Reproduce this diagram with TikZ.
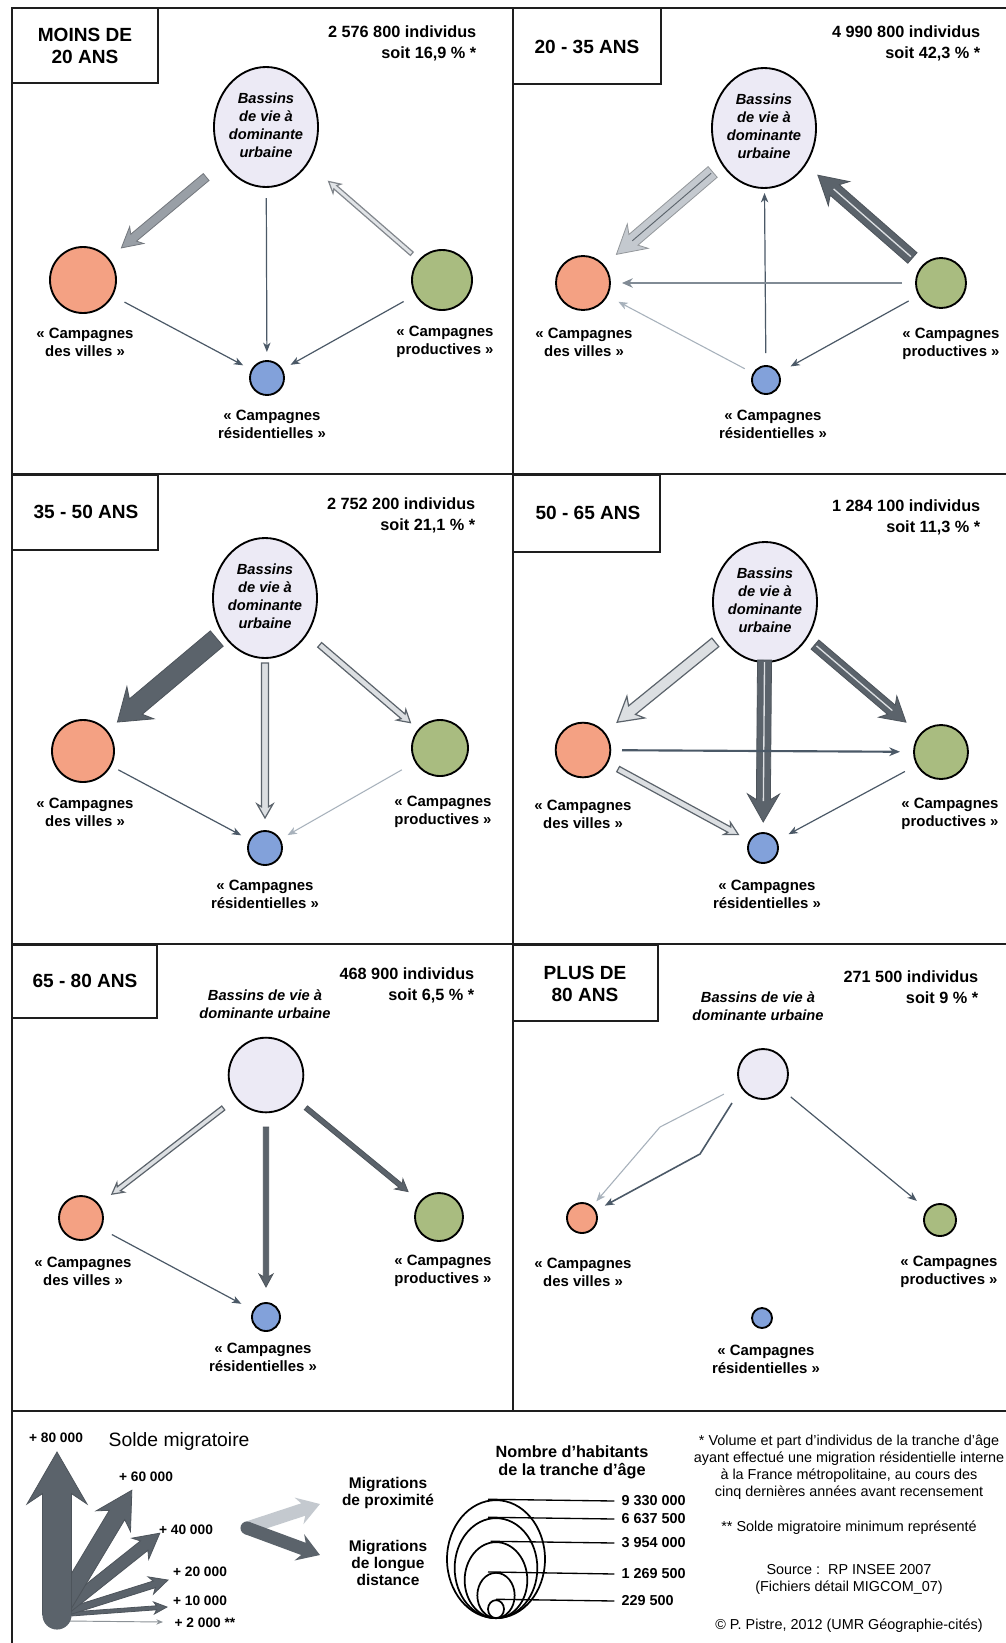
\documentclass[tikz,border=0pt]{standalone}
\usepackage{fontspec}
\setmainfont{Liberation Sans}
\usetikzlibrary{calc,arrows.meta,shapes.geometric}
\definecolor{urb}{HTML}{ECEAF5}
\definecolor{vil}{HTML}{F4A183}
\definecolor{pro}{HTML}{A9BC80}
\definecolor{res}{HTML}{82A1DA}
\definecolor{adark}{HTML}{5B636B}
\definecolor{alight}{HTML}{C4C9CF}
\definecolor{amid}{HTML}{999FA6}
\definecolor{thinc}{HTML}{4B5967}
\definecolor{thinl}{HTML}{A7B1BB}
\definecolor{framec}{HTML}{1E1E1E}

\newcommand\zw[1]{\makebox[0pt]{\begin{tabular}{@{}c@{}}#1\end{tabular}}}

% polygon flow arrow: from, to, start offset, end offset, half shaft, half head, head length (px), style, centre-line style
\newcommand\flowarr[9]{%
  \path[#8] let \p1=(#1), \p2=(#2),
      \n1={atan2(\y2-\y1,\x2-\x1)},
      \n2={veclen(\x2-\x1,\y2-\y1)},
      \n3={0.75pt*(#3)},
      \n4={\n2-0.75pt*(#4)},
      \n5={\n4-0.75pt*(#7)},
      \n6={\n4-0.6pt*(#7)},
      \n7={0.75pt*(#5)},
      \n8={0.75pt*(#6)}
    in ($(\p1)+({\n1}:\n3)+({\n1+90}:\n7)$)
    -- ($(\p1)+({\n1}:\n6)+({\n1+90}:\n7)$)
    -- ($(\p1)+({\n1}:\n5)+({\n1+90}:\n8)$)
    -- ($(\p1)+({\n1}:\n4)$)
    -- ($(\p1)+({\n1}:\n5)+({\n1-90}:\n8)$)
    -- ($(\p1)+({\n1}:\n6)+({\n1-90}:\n7)$)
    -- ($(\p1)+({\n1}:\n3)+({\n1-90}:\n7)$) -- cycle;
  \path[#9] let \p1=(#1), \p2=(#2),
      \n1={atan2(\y2-\y1,\x2-\x1)},
      \n2={veclen(\x2-\x1,\y2-\y1)},
      \n3={0.75pt*(#3)+1.5pt},
      \n6={\n2-0.75pt*(#4)-0.56pt*(#7)}
    in ($(\p1)+({\n1}:\n3)$) -- ($(\p1)+({\n1}:\n6)$);
}
% thin link: from, to, start offset, end offset (px), style
\newcommand\tlink[5]{%
  \draw[#5] let \p1=(#1), \p2=(#2),
      \n1={atan2(\y2-\y1,\x2-\x1)},
      \n3={0.75pt*(#3)},
      \n4={veclen(\x2-\x1,\y2-\y1)-0.75pt*(#4)}
    in ($(\p1)+({\n1}:\n3)$) -- ($(\p1)+({\n1}:\n4)$);
}

\tikzset{
  frame/.style={draw=framec, line width=2.2pt},
  tbox/.style={draw=framec, line width=1.8pt},
  ttl/.style={font=\fontsize{14.3}{16.5}\selectfont\bfseries, align=center},
  hdr/.style={font=\fontsize{12.2}{15.8}\selectfont\bfseries, align=right, anchor=east},
  lab/.style={font=\fontsize{11.2}{13.5}\selectfont\bfseries, align=center},
  urbt/.style={font=\fontsize{11}{13.2}\selectfont\bfseries\itshape, align=center},
  lgn/.style={font=\fontsize{10.3}{12}\selectfont\bfseries},
  lgc/.style={font=\fontsize{10.8}{12}\selectfont\bfseries, anchor=west},
  lgt/.style={font=\fontsize{11.6}{13}\selectfont\bfseries, align=center},
  fnote/.style={font=\fontsize{10.8}{12.8}\selectfont, align=center},
  nbase/.style={draw=black, line width=1.4pt, inner sep=0pt},
  nurb/.style={nbase, ellipse, fill=urb, minimum width=78pt, minimum height=90pt, font=\fontsize{11}{13.5}\selectfont\bfseries\itshape},
  nvil/.style={nbase, circle, fill=vil},
  npro/.style={nbase, circle, fill=pro},
  nres/.style={nbase, circle, fill=res},
  atip/.style={-{Stealth[length=7pt,width=5.5pt,inset=2pt]}},
  tl/.style={draw=thinc, line width=0.9pt, atip},
  tll/.style={draw=thinl, line width=0.8pt, atip},
  tm/.style={draw=thinc!70!white, line width=2pt, -{Stealth[length=8pt,width=7pt,inset=2.5pt]}},
  tm2/.style={draw=thinc, line width=1.6pt, -{Stealth[length=8pt,width=6.5pt,inset=2.5pt]}},
  fmid/.style={fill=amid, draw=amid!75!black, line width=0.6pt},
  flight/.style={fill=alight, draw=alight!75!black, line width=0.6pt},
  fdark/.style={fill=adark, draw=adark!85!black, line width=0.6pt},
  fout/.style={fill=alight!60!white, draw=adark, line width=0.9pt},
  foutl/.style={fill=alight!50!white, draw=amid!85!black, line width=0.9pt},
  cdark/.style={draw=adark, line width=0.7pt},
  clight/.style={draw=alight!60!white, line width=1pt},
  nocl/.style={draw=none},
}

\begin{document}
\begin{tikzpicture}[x=0.75pt,y=-0.75pt]
\fill[white] (0,0) rectangle (1006,1643);
\useasboundingbox (0,0) rectangle (1006,1643);

% ---------- frame ----------
\draw[frame] (12,1643) -- (12,8) -- (1006,8);
\draw[frame] (12,474) -- (1006,474);
\draw[frame] (12,944) -- (1006,944);
\draw[frame] (12,1411) -- (1006,1411);
\draw[frame] (513,8) -- (513,1411);

% ---------- panel 1 ----------
\draw[tbox] (12,8) rectangle (158,83);
\node[ttl] (T1) at (85,46) {MOINS DE\\20 ANS};
\node[hdr] (H1) at (481,43) {2 576 800 individus\\soit 16,9 \% *};
\node[nurb] (U1) at (266,127) {\zw{Bassins\\de vie à\\dominante\\urbaine}};
\node[nvil, minimum size=49.5pt] (V1) at (83,280) {};
\node[npro, minimum size=45pt] (P1) at (442,280) {};
\node[nres, minimum size=25.5pt] (R1) at (267,378) {};
\node[lab] (LV1) at (85,342) {«~Campagnes\\des villes~»};
\node[lab] (LP1) at (445,342) {«~Campagnes\\productives~»};
\node[lab] (LR1) at (272,424) {«~Campagnes\\résidentielles~»};
\flowarr{U1}{V1}{78}{50}{4.5}{11}{20}{fmid}{nocl}
\tlink{U1}{R1}{71}{26}{tl}
\flowarr{P1}{U1}{40}{83}{2.2}{6}{11}{foutl}{nocl}
\tlink{V1}{R1}{47}{27}{tl}
\tlink{P1}{R1}{44}{27}{tl}

% ---------- panel 2 ----------
\draw[tbox] (513,8) rectangle (661,84);
\node[ttl] (T2) at (587,47) {20 - 35 ANS};
\node[hdr] (H2) at (985,43) {4 990 800 individus\\soit 42,3 \% *};
\node[nurb] (U2) at (764,128) {\zw{Bassins\\de vie à\\dominante\\urbaine}};
\node[nvil, minimum size=40.5pt] (V2) at (583,283) {};
\node[npro, minimum size=37.5pt] (P2) at (941,283) {};
\node[nres, minimum size=21pt] (R2) at (766,380) {};
\node[lab] (LV2) at (584,342) {«~Campagnes\\des villes~»};
\node[lab] (LP2) at (951,344) {«~Campagnes\\productives~»};
\node[lab] (LR2) at (773,424) {«~Campagnes\\résidentielles~»};
\flowarr{U2}{V2}{67.6}{44}{7}{16}{28}{flight}{cdark}
\flowarr{P2}{U2}{38}{71.6}{7}{16}{28}{fdark}{clight}
\tlink{R2}{U2}{27}{65}{tl}
\tlink{P2}{V2}{39}{39}{tm}
\tlink{R2}{V2}{24}{40}{tll}
\tlink{P2}{R2}{37}{28}{tl}

% ---------- panel 3 ----------
\draw[tbox] (12,475) rectangle (158,550);
\node[ttl] (T3) at (86,512) {35 - 50 ANS};
\node[hdr] (H3) at (480,515) {2 752 200 individus\\soit 21,1 \% *};
\node[nurb] (U3) at (265,598) {\zw{Bassins\\de vie à\\dominante\\urbaine}};
\node[nvil, minimum size=46.5pt] (V3) at (83,751) {};
\node[npro, minimum size=42pt] (P3) at (440,748) {};
\node[nres, minimum size=25.5pt] (R3) at (265,848) {};
\node[lab] (LV3) at (85,812) {«~Campagnes\\des villes~»};
\node[lab] (LP3) at (443,812) {«~Campagnes\\productives~»};
\node[lab] (LR3) at (265,894) {«~Campagnes\\résidentielles~»};
\flowarr{U3}{V3}{63}{45}{10}{21}{30}{fdark}{nocl}
\flowarr{U3}{R3}{65}{30}{3.5}{8}{14}{fout}{nocl}
\flowarr{U3}{P3}{72}{39}{3}{7}{12}{fout}{nocl}
\tlink{V3}{R3}{40}{27}{tl}
\tlink{P3}{R3}{44}{26}{tll}

% ---------- panel 4 ----------
\draw[tbox] (513,475) rectangle (660,552);
\node[ttl] (T4) at (588,513) {50 - 65 ANS};
\node[hdr] (H4) at (985,517) {1 284 100 individus\\soit 11,3 \% *};
\node[nurb] (U4) at (765,602) {\zw{Bassins\\de vie à\\dominante\\urbaine}};
\node[nvil, minimum size=41pt] (V4) at (583,750) {};
\node[npro, minimum size=40.5pt] (P4) at (941,752) {};
\node[nres, minimum size=22.5pt] (R4) at (763,848) {};
\node[lab] (LV4) at (583,814) {«~Campagnes\\des villes~»};
\node[lab] (LP4) at (950,814) {«~Campagnes\\productives~»};
\node[lab] (LR4) at (767,894) {«~Campagnes\\résidentielles~»};
\flowarr{U4}{V4}{64}{44}{5.5}{14}{24}{fout}{nocl}
\flowarr{U4}{R4}{58}{26}{7}{16}{28}{fdark}{clight}
\flowarr{U4}{P4}{65.6}{46}{6}{14}{24}{fdark}{clight}
\tlink{V4}{P4}{39}{41}{tm2}
\flowarr{V4}{R4}{40}{28}{3}{7}{13}{fout}{nocl}
\tlink{P4}{R4}{41}{29}{tl}

% ---------- panel 5 ----------
\draw[tbox] (12,945) rectangle (157,1018);
\node[ttl] (T5) at (85,981) {65 - 80 ANS};
\node[hdr] (H5) at (479,985) {468 900 individus\\soit 6,5 \% *};
\node[urbt] (UT5) at (265,1004) {Bassins de vie à\\dominante urbaine};
\node[nbase, circle, fill=urb, minimum size=56pt] (U5) at (266,1075) {};
\node[nvil, minimum size=33pt] (V5) at (81,1218) {};
\node[npro, minimum size=36pt] (P5) at (439,1217) {};
\node[nres, minimum size=21pt] (R5) at (266,1317) {};
\node[lab] (LV5) at (83,1271) {«~Campagnes\\des villes~»};
\node[lab] (LP5) at (443,1271) {«~Campagnes\\productives~»};
\node[lab] (LR5) at (263,1357) {«~Campagnes\\résidentielles~»};
\flowarr{U5}{V5}{54}{39}{2.5}{6}{11}{fout}{nocl}
\flowarr{U5}{R5}{52}{30}{2.7}{7}{13}{fdark}{nocl}
\flowarr{U5}{P5}{51.6}{40}{2.5}{6.5}{12}{fdark}{nocl}
\tlink{V5}{R5}{35}{28}{tl}

% ---------- panel 6 ----------
\draw[tbox] (513,945) rectangle (658,1021);
\node[ttl] (T6) at (585,984) {PLUS DE\\80 ANS};
\node[hdr] (H6) at (983,987) {271 500 individus\\soit 9 \% *};
\node[urbt] (UT6) at (758,1006) {Bassins de vie à\\dominante urbaine};
\node[nbase, circle, fill=urb, minimum size=37.5pt] (U6) at (763,1074) {};
\node[nvil, minimum size=22.5pt] (V6) at (582,1218) {};
\node[npro, minimum size=24pt] (P6) at (940,1220) {};
\node[nres, minimum size=15pt] (R6) at (762,1318) {};
\node[lab] (LV6) at (583,1272) {«~Campagnes\\des villes~»};
\node[lab] (LP6) at (949,1272) {«~Campagnes\\productives~»};
\node[lab] (LR6) at (766,1359) {«~Campagnes\\résidentielles~»};
\coordinate (B6a) at (660,1127);
\coordinate (B6b) at (700,1154);
\coordinate (S6b) at (732,1103);
\draw[tll] ($(U6)!33pt!(B6a)$) -- (B6a) -- ($(V6)!16.5pt!(B6a)$);
\draw[tl, line width=1.2pt] (S6b) -- (B6b) -- ($(V6)!19.4pt!(B6b)$);
\tlink{U6}{P6}{36}{30}{tl}

% ---------- legend: solde migratoire ----------
\coordinate (LO) at (57,1615);
\coordinate (LO2) at (68,1621);
\coordinate (L80) at (57,1452);
\coordinate (L60) at (132,1490);
\coordinate (L40) at (160,1533);
\coordinate (L20) at (168,1580);
\coordinate (L10) at (167,1607);
\coordinate (L2) at (163,1622);
\draw[draw=adark!70, line width=0.7pt, -{Stealth[length=5pt,width=4pt]}] (LO2) -- (L2);
\flowarr{LO}{L10}{0}{0}{2}{6}{13}{fdark}{nocl}
\flowarr{LO}{L20}{0}{0}{3.5}{9}{18}{fdark}{nocl}
\flowarr{LO}{L40}{0}{0}{6}{13.5}{25}{fdark}{nocl}
\flowarr{LO}{L60}{0}{0}{9}{20}{36}{fdark}{nocl}
\flowarr{LO}{L80}{0}{0}{14.5}{30}{52}{fdark}{nocl}
\fill[adark] (LO) circle (10.9pt);
\node[lgn] (N80) at (56,1438) {+ 80 000};
\node[font=\fontsize{14.5}{17}\selectfont, anchor=west] (SM) at (104,1441) {Solde migratoire};
\node[lgn] (N60) at (146,1477) {+ 60 000};
\node[lgn] (N40) at (186,1530) {+ 40 000};
\node[lgn] (N20) at (200,1572) {+ 20 000};
\node[lgn] (N10) at (200,1601) {+ 10 000};
\node[lgn] (N2) at (205,1623) {+ 2 000 **};

% ---------- legend: migrations ----------
\coordinate (MJ) at (247,1528);
\coordinate (MP) at (320,1504);
\coordinate (ML) at (320,1555);
\flowarr{MJ}{MP}{0}{0}{6.5}{14}{22}{fill=alight}{nocl}
\flowarr{MJ}{ML}{0}{0}{6.5}{14}{22}{fill=adark}{nocl}
\fill[adark] (MJ) circle (4.9pt);
\node[lgt] (MPT) at (388,1493) {Migrations\\de proximité};
\node[lgt] (MLT) at (388,1563) {Migrations\\de longue\\distance};

% ---------- legend: nombre d'habitants ----------
\node[font=\fontsize{12.2}{13.5}\selectfont\bfseries, align=center] (NH) at (572,1462) {Nombre d'habitants\\de la tranche d'âge};
\node[draw, line width=1.3pt, ellipse, inner sep=0pt, minimum width=73.5pt, minimum height=88.5pt, anchor=south] (C1) at (496,1619) {};
\node[draw, line width=1.3pt, ellipse, inner sep=0pt, minimum width=62pt, minimum height=75pt, anchor=south] (C2) at (496,1619) {};
\node[draw, line width=1.3pt, ellipse, inner sep=0pt, minimum width=47pt, minimum height=57pt, anchor=south] (C3) at (496,1619) {};
\node[draw, line width=1.3pt, ellipse, inner sep=0pt, minimum width=28pt, minimum height=34pt, anchor=south] (C4) at (496,1619) {};
\node[draw, line width=1.3pt, ellipse, inner sep=0pt, minimum width=12pt, minimum height=13.5pt, anchor=south] (C5) at (496,1619) {};
\node[lgc] (N1) at (617,1501) {9 330 000};
\node[lgc] (N2b) at (617,1519) {6 637 500};
\node[lgc] (N3) at (617,1543) {3 954 000};
\node[lgc] (N4) at (617,1574) {1 269 500};
\node[lgc] (N5) at (617,1601) {229 500};
\draw[line width=1pt] ([xshift=-6pt]C1.north) -- ([xshift=-2pt]N1.west);
\draw[line width=1pt] ([xshift=-6pt]C2.north) -- ([xshift=-2pt]N2b.west);
\draw[line width=1pt] ([xshift=-4pt]C3.north) -- ([xshift=-2pt]N3.west);
\draw[line width=1pt] ([xshift=-6pt]C4.north) -- ([xshift=-2pt]N4.west);
\draw[line width=1pt] ([xshift=0pt]C5.north) -- ([xshift=-2pt]N5.west);

% ---------- footnotes ----------
\node[fnote] (F1) at (849,1467) {* Volume et part d'individus de la tranche d'âge\\ayant effectué une migration résidentielle interne\\à la France métropolitaine, au cours des\\cinq dernières années avant recensement};
\node[fnote] (F2) at (849,1528) {** Solde migratoire minimum représenté};
\node[fnote] (F3) at (849,1579) {Source~:~~RP INSEE 2007\\(Fichiers détail MIGCOM\_07)};
\node[fnote] (F4) at (849,1626) {© P. Pistre, 2012 (UMR Géographie-cités)};
\end{tikzpicture}
\end{document}
